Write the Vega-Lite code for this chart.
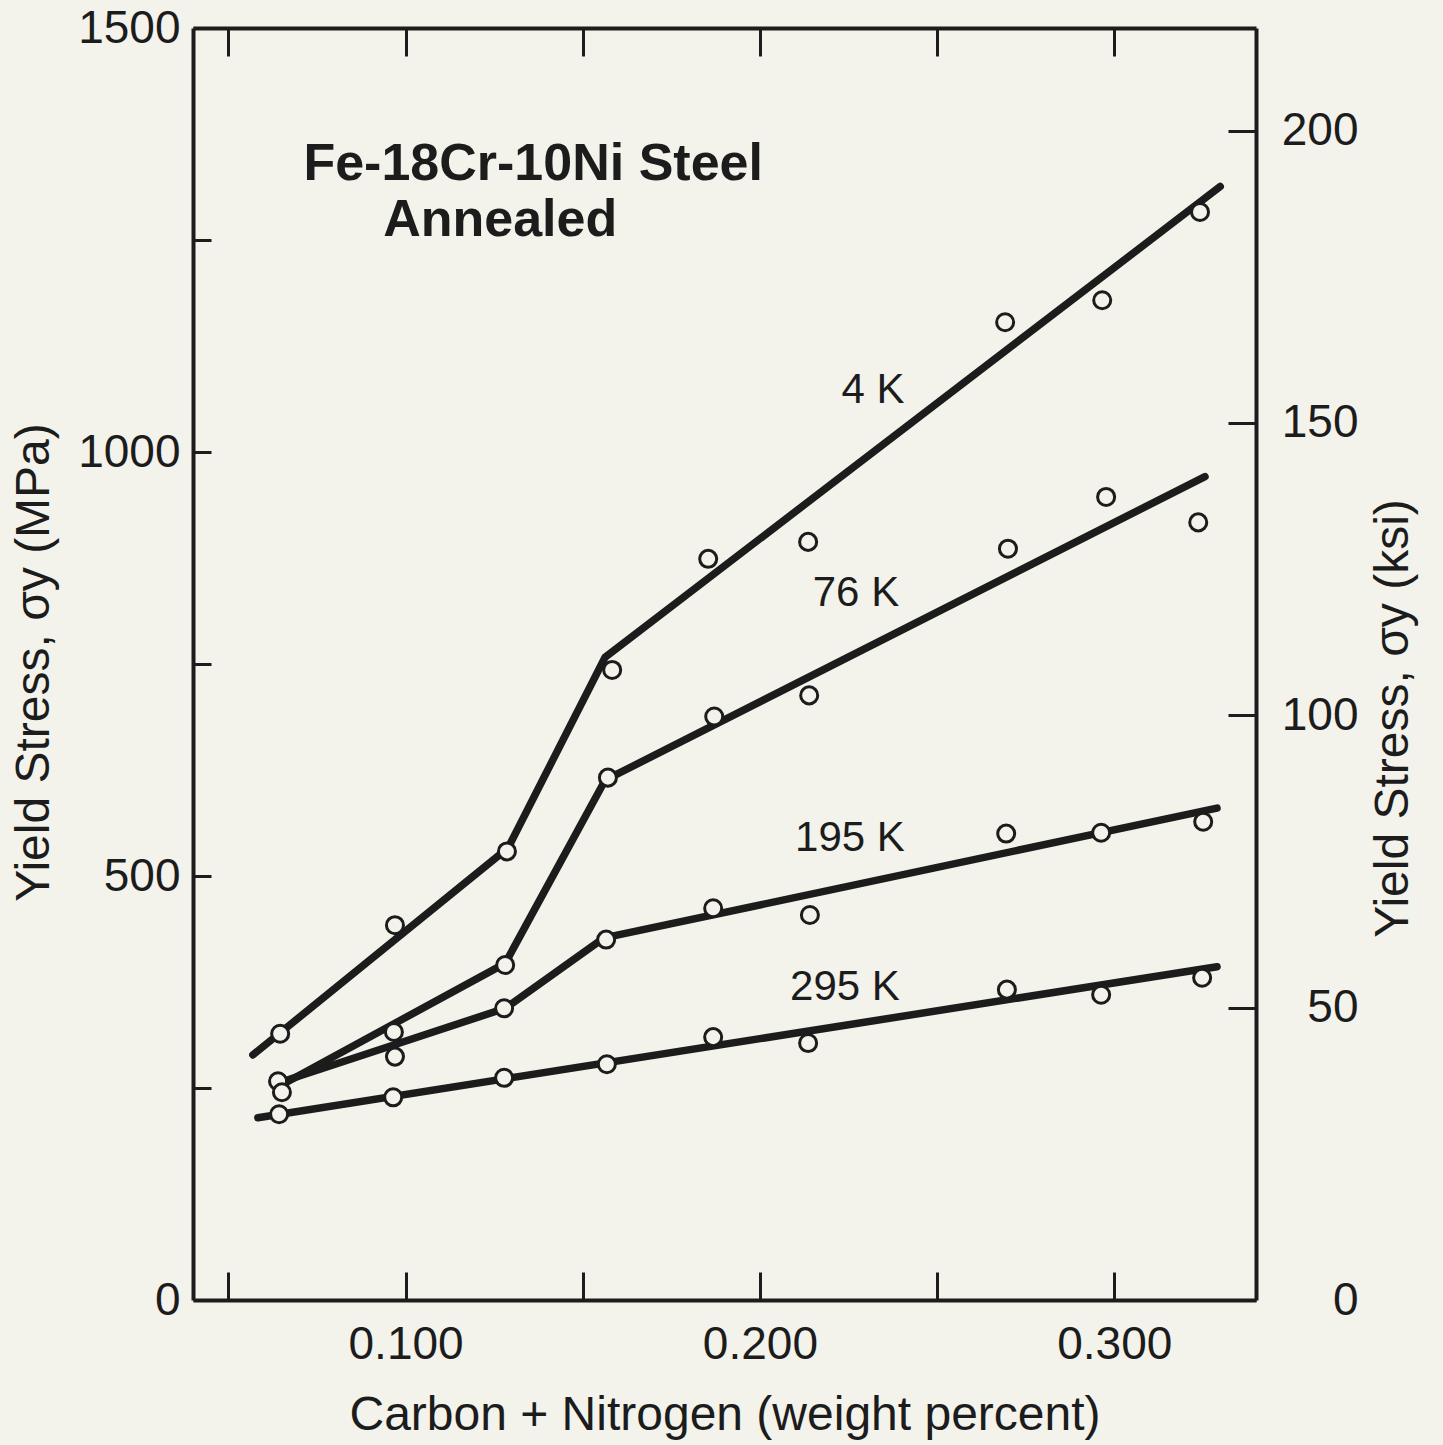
{
  "$schema": "https://vega.github.io/schema/vega-lite/v6.json",
  "width": 1063,
  "height": 1272,
  "autosize": {"type": "none"},
  "padding": {"left": 193, "top": 28, "right": 187, "bottom": 145},
  "background": "#f3f3ec",
  "config": {
    "view": {"stroke": null},
    "font": "Liberation Sans",
    "axis": {
      "grid": false,
      "domainColor": "#1c1c1c",
      "domainWidth": 4,
      "tickColor": "#1c1c1c",
      "tickWidth": 3,
      "labelColor": "#1c1c1c",
      "labelFont": "Liberation Sans",
      "labelFontSize": 46,
      "labelFlush": false,
      "labelOverlap": false,
      "titleColor": "#1c1c1c",
      "titleFont": "Liberation Sans",
      "titleFontSize": 48,
      "titleFontWeight": "normal"
    }
  },
  "datasets": {
    "obs": [
      {"temp": "4K", "x": 0.0646, "mpa": 314},
      {"temp": "4K", "x": 0.0970, "mpa": 442},
      {"temp": "4K", "x": 0.1286, "mpa": 529},
      {"temp": "4K", "x": 0.1583, "mpa": 743},
      {"temp": "4K", "x": 0.1854, "mpa": 874},
      {"temp": "4K", "x": 0.2136, "mpa": 894},
      {"temp": "4K", "x": 0.2692, "mpa": 1153},
      {"temp": "4K", "x": 0.2966, "mpa": 1179},
      {"temp": "4K", "x": 0.3242, "mpa": 1283},
      {"temp": "76K", "x": 0.0640, "mpa": 258},
      {"temp": "76K", "x": 0.0967, "mpa": 316},
      {"temp": "76K", "x": 0.1281, "mpa": 395},
      {"temp": "76K", "x": 0.1571, "mpa": 616},
      {"temp": "76K", "x": 0.1871, "mpa": 688},
      {"temp": "76K", "x": 0.2139, "mpa": 713},
      {"temp": "76K", "x": 0.2700, "mpa": 886},
      {"temp": "76K", "x": 0.2977, "mpa": 947},
      {"temp": "76K", "x": 0.3237, "mpa": 917},
      {"temp": "195K", "x": 0.0651, "mpa": 245},
      {"temp": "195K", "x": 0.0970, "mpa": 287},
      {"temp": "195K", "x": 0.1278, "mpa": 344},
      {"temp": "195K", "x": 0.1566, "mpa": 425},
      {"temp": "195K", "x": 0.1868, "mpa": 462},
      {"temp": "195K", "x": 0.2141, "mpa": 454},
      {"temp": "195K", "x": 0.2695, "mpa": 550},
      {"temp": "195K", "x": 0.2963, "mpa": 551},
      {"temp": "195K", "x": 0.3251, "mpa": 564},
      {"temp": "295K", "x": 0.0643, "mpa": 219},
      {"temp": "295K", "x": 0.0965, "mpa": 239},
      {"temp": "295K", "x": 0.1278, "mpa": 262},
      {"temp": "295K", "x": 0.1568, "mpa": 278},
      {"temp": "295K", "x": 0.1868, "mpa": 310},
      {"temp": "295K", "x": 0.2136, "mpa": 303},
      {"temp": "295K", "x": 0.2697, "mpa": 366},
      {"temp": "295K", "x": 0.2963, "mpa": 360},
      {"temp": "295K", "x": 0.3248, "mpa": 380}
    ],
    "fits": [
      {"temp": "4K", "x": 0.0569, "mpa": 289},
      {"temp": "4K", "x": 0.1289, "mpa": 533},
      {"temp": "4K", "x": 0.1563, "mpa": 758},
      {"temp": "4K", "x": 0.3299, "mpa": 1313},
      {"temp": "76K", "x": 0.0634, "mpa": 250},
      {"temp": "76K", "x": 0.1281, "mpa": 397},
      {"temp": "76K", "x": 0.1563, "mpa": 613},
      {"temp": "76K", "x": 0.3256, "mpa": 971},
      {"temp": "195K", "x": 0.0634, "mpa": 255},
      {"temp": "195K", "x": 0.1281, "mpa": 344},
      {"temp": "195K", "x": 0.1560, "mpa": 427},
      {"temp": "195K", "x": 0.3290, "mpa": 580},
      {"temp": "295K", "x": 0.0583, "mpa": 215},
      {"temp": "295K", "x": 0.3290, "mpa": 393}
    ],
    "curveLabels": [
      {"label": "4 K", "x": 0.2319, "mpa": 1073},
      {"label": "76 K", "x": 0.2271, "mpa": 834},
      {"label": "195 K", "x": 0.2254, "mpa": 545},
      {"label": "295 K", "x": 0.2240, "mpa": 369}
    ],
    "heading": [
      {"label": "Fe-18Cr-10Ni Steel", "x": 0.136, "mpa": 1340},
      {"label": "Annealed", "x": 0.1267, "mpa": 1274}
    ]
  },
  "layer": [
    {
      "encoding": {
        "x": {
          "field": "x",
          "type": "quantitative",
          "scale": {"domain": [0.04, 0.34], "nice": false, "zero": false},
          "axis": {
            "orient": "bottom",
            "values": [0.05, 0.1, 0.15, 0.2, 0.25, 0.3],
            "labelExpr": "abs(datum.value * 10 - round(datum.value * 10)) < 0.000001 ? format(datum.value, '.3f') : ''",
            "tickSize": -28,
            "labelPadding": 50,
            "title": "Carbon + Nitrogen  (weight percent)",
            "titleY": 115,
            "titleBaseline": "middle"
          }
        },
        "y": {
          "field": "mpa",
          "type": "quantitative",
          "scale": {"domain": [0, 1500], "nice": false, "zero": false},
          "axis": {
            "orient": "left",
            "values": [0, 250, 500, 750, 1000, 1250, 1500],
            "labelExpr": "datum.value % 500 === 0 ? datum.label : ''",
            "format": "d",
            "tickSize": -18,
            "labelPadding": 31,
            "title": "Yield Stress, σy  (MPa)",
            "titleAngle": -90,
            "titleX": -159,
            "titleY": 634,
            "titleAlign": "center",
            "titleBaseline": "middle"
          }
        }
      },
      "layer": [
        {
          "data": {"name": "fits"},
          "mark": {"type": "line", "color": "#1c1c1c", "strokeWidth": 7.5, "strokeCap": "round", "strokeJoin": "round"},
          "encoding": {"detail": {"field": "temp"}}
        },
        {
          "data": {"name": "obs"},
          "mark": {"type": "point", "shape": "circle", "filled": true, "fill": "#f3f3ec", "stroke": "#1c1c1c", "strokeWidth": 3, "size": 290, "opacity": 1}
        },
        {
          "data": {"name": "curveLabels"},
          "mark": {"type": "text", "fontSize": 42, "color": "#1c1c1c", "align": "center", "baseline": "middle"},
          "encoding": {"text": {"field": "label"}}
        },
        {
          "data": {"name": "heading"},
          "mark": {"type": "text", "fontSize": 52, "fontWeight": "bold", "color": "#1c1c1c", "align": "center", "baseline": "middle"},
          "encoding": {"text": {"field": "label"}}
        }
      ]
    },
    {
      "data": {"values": [{"x": 0.04}]},
      "mark": {"type": "point", "opacity": 0},
      "encoding": {
        "x": {
          "field": "x",
          "type": "quantitative",
          "scale": {"domain": [0.04, 0.34], "nice": false, "zero": false},
          "axis": {
            "orient": "top",
            "values": [0.05, 0.1, 0.15, 0.2, 0.25, 0.3],
            "labels": false,
            "tickSize": -28,
            "title": null
          }
        }
      }
    },
    {
      "data": {"values": [{"ksi": 0}]},
      "mark": {"type": "point", "opacity": 0},
      "encoding": {
        "y": {
          "field": "ksi",
          "type": "quantitative",
          "scale": {"domain": [0, 217.55], "nice": false, "zero": false},
          "axis": {
            "orient": "right",
            "values": [0, 50, 100, 150, 200],
            "format": "d",
            "tickSize": -28,
            "labelAlign": "right",
            "labelPadding": 130,
            "title": "Yield Stress, σy  (ksi)",
            "titleAngle": -90,
            "titleX": 137,
            "titleY": 690,
            "titleAlign": "center",
            "titleBaseline": "middle"
          }
        }
      }
    }
  ],
  "resolve": {
    "scale": {"x": "independent", "y": "independent"},
    "axis": {"x": "independent", "y": "independent"}
  }
}
